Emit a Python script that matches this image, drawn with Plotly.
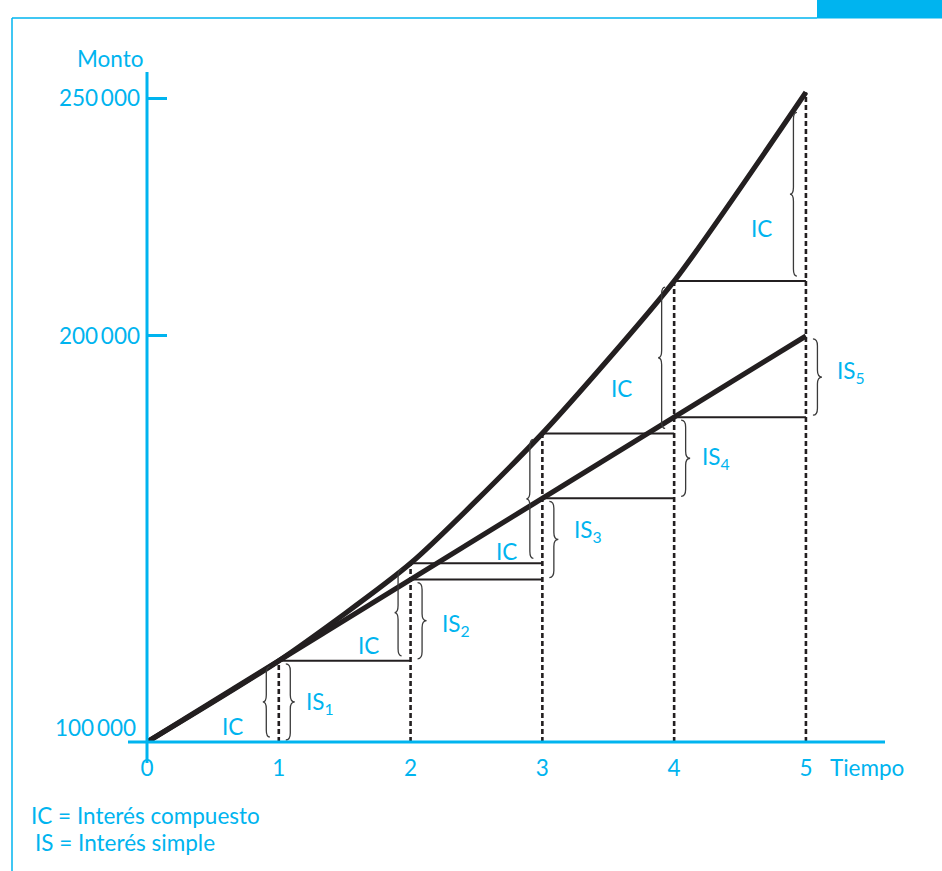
import plotly.graph_objects as go

# ---------------- data ----------------
years = [0, 1, 2, 3, 4, 5]
compuesto = [100000, 120000, 144000, 176000, 213500, 260000]   # monto con interés compuesto
simple = [100000, 120000, 140000, 160000, 180000, 200000]      # monto con interés simple
x_tick_labels = ["0", "1", "2", "3", "4", "5"]
y_tick_values = [200000, 258500]
y_tick_labels = ["200\u2009000", "250\u2009000"]
origin_label = "100\u2009000"
is_labels = ["IS<sub>1</sub>", "IS<sub>2</sub>", "IS<sub>3</sub>", "IS<sub>4</sub>", "IS<sub>5</sub>"]
ic_label = "IC"
legend_lines = ["IC = Interés compuesto", "IS = Interés simple"]

# ---------------- style ----------------
CYAN = "#00B4EF"
INK = "#231F20"
FONT = "Lato"
FS = 22.5
W, H = 942, 871
L, R, T, B = 147, 57, 72, 129
PW, PH = W - L - R, H - T - B
XR = [0, 5.6]
YR = [100000, 265000]
xpx = PW / (XR[1] - XR[0])      # px per x unit
ypx = PH / (YR[1] - YR[0])      # px per y unit


def dx(p):
    return p / xpx


def dy(p):
    return p / ypx


def paper_x(p):
    return (p - L) / PW


def paper_y(p):
    return (H - B - p) / PH


fig = go.Figure()

# step lines (levels carried to the next period)
for k in range(1, 5):
    fig.add_trace(go.Scatter(x=[years[k], years[k + 1]], y=[compuesto[k], compuesto[k]],
                             mode="lines", line=dict(color=INK, width=2), hoverinfo="skip"))
    if simple[k] != compuesto[k]:
        fig.add_trace(go.Scatter(x=[years[k], years[k + 1]], y=[simple[k], simple[k]],
                                 mode="lines", line=dict(color=INK, width=2), hoverinfo="skip"))

# dashed verticals
for k in range(1, 6):
    fig.add_trace(go.Scatter(x=[years[k], years[k]], y=[YR[0], compuesto[k]], mode="lines",
                             line=dict(color=INK, width=2.6, dash="5px,3px"), hoverinfo="skip"))

# main curves
fig.add_trace(go.Scatter(x=years, y=simple, mode="lines",
                         line=dict(color=INK, width=5.2), hoverinfo="skip"))
fig.add_trace(go.Scatter(x=years, y=compuesto, mode="lines",
                         line=dict(color=INK, width=5.2, shape="spline", smoothing=0.6),
                         hoverinfo="skip"))


def brace(xe, y_lo, y_hi, w, direction):
    xm = xe + direction * w / 2
    xt = xe + direction * w
    c = min(dy(7), (y_hi - y_lo) / 4)
    ym = (y_lo + y_hi) / 2
    return (f"M {xe},{y_hi} Q {xm},{y_hi} {xm},{y_hi - c} L {xm},{ym + c} "
            f"Q {xm},{ym} {xt},{ym} Q {xm},{ym} {xm},{ym - c} L {xm},{y_lo + c} "
            f"Q {xm},{y_lo} {xe},{y_lo}")


shapes = []
for k in range(1, 6):
    # IC brace "{" on the left of the year line
    top_inset = 20 if k == 5 else 6
    path = brace(years[k] - dx(9), compuesto[k - 1] + dy(5), compuesto[k] - dy(top_inset), dx(7), -1)
    shapes.append(dict(type="path", path=path, xref="x", yref="y",
                       line=dict(color="#3A3A3A", width=1.3)))
    # IS brace "}" on the right
    path = brace(years[k] + dx(7), simple[k - 1] + dy(2), simple[k] - dy(3), dx(9), 1)
    shapes.append(dict(type="path", path=path, xref="x", yref="y",
                       line=dict(color="#3A3A3A", width=1.3)))

# axes lines with overhangs (paper coords)
shapes.append(dict(type="line", xref="paper", yref="paper", x0=paper_x(128), x1=1, y0=0, y1=0,
                   line=dict(color=CYAN, width=3)))
shapes.append(dict(type="line", xref="paper", yref="paper", x0=0, x1=0, y0=paper_y(763), y1=1,
                   line=dict(color=CYAN, width=3)))
# page frame
shapes.append(dict(type="line", xref="paper", yref="paper", x0=paper_x(12), x1=paper_x(817),
                   y0=paper_y(18), y1=paper_y(18), line=dict(color=CYAN, width=1.5)))
shapes.append(dict(type="line", xref="paper", yref="paper", x0=paper_x(12), x1=paper_x(12),
                   y0=paper_y(18), y1=paper_y(875), line=dict(color=CYAN, width=1.5)))
shapes.append(dict(type="rect", xref="paper", yref="paper", x0=paper_x(817), x1=paper_x(945),
                   y0=paper_y(18.5), y1=paper_y(-2), fillcolor=CYAN, line=dict(width=0)))

font = dict(family=FONT, size=FS, color=CYAN)
ann = []
ic_shifts = [(-46, 16), (-42, 15), (-36, 12), (-53, 45), (-44, 53)]
is_shifts = [(25, -2), (29, -5), (30, 8), (26, 0), (29, 5)]
for k in range(1, 6):
    sx, sy = ic_shifts[k - 1]
    ann.append(dict(x=years[k], y=compuesto[k - 1], xref="x", yref="y", text=ic_label,
                    showarrow=False, xshift=sx, yshift=sy, xanchor="center", yanchor="middle",
                    font=font))
    sx, sy = is_shifts[k - 1]
    ann.append(dict(x=years[k], y=(simple[k - 1] + simple[k]) / 2, xref="x", yref="y",
                    text=is_labels[k - 1], showarrow=False, xshift=sx, yshift=sy,
                    xanchor="left", yanchor="middle", font=font))

ann.append(dict(x=0, y=YR[0], xref="x", yref="y", text=origin_label, showarrow=False,
                xanchor="right", yanchor="middle", xshift=-9, yshift=15, font=font))
ann.append(dict(x=0, y=1, xref="paper", yref="paper", text="Monto", showarrow=False,
                xanchor="right", yanchor="middle", xshift=-2, yshift=14, font=font))
ann.append(dict(x=years[-1], y=0, xref="x", yref="paper", text="Tiempo", showarrow=False,
                xanchor="left", yanchor="middle", xshift=22, yshift=-25, font=font))
ann.append(dict(x=paper_x(29), y=paper_y(815), xref="paper", yref="paper", text=legend_lines[0],
                showarrow=False, xanchor="left", yanchor="middle", font=font))
ann.append(dict(x=paper_x(33), y=paper_y(842), xref="paper", yref="paper", text=legend_lines[1],
                showarrow=False, xanchor="left", yanchor="middle", font=font))

fig.update_layout(
    width=W, height=H,
    margin=dict(l=L, r=R, t=T, b=B, pad=0),
    paper_bgcolor="white", plot_bgcolor="white",
    showlegend=False,
    shapes=shapes,
    annotations=ann,
    font=dict(family=FONT),
)
fig.update_xaxes(range=XR, showgrid=False, zeroline=False, showline=False,
                 tickvals=years, ticktext=x_tick_labels, ticks="",
                 tickfont=font, ticklabelstandoff=10)
fig.update_yaxes(range=YR, showgrid=False, zeroline=False, showline=False,
                 tickvals=y_tick_values, ticktext=y_tick_labels, ticks="inside",
                 ticklen=20, tickwidth=3, tickcolor=CYAN, tickfont=font,
                 ticklabelstandoff=6)

fig.write_html("out.html", config={"displayModeBar": False},
               post_script="document.body.style.margin='0';document.body.style.overflow='hidden';")
